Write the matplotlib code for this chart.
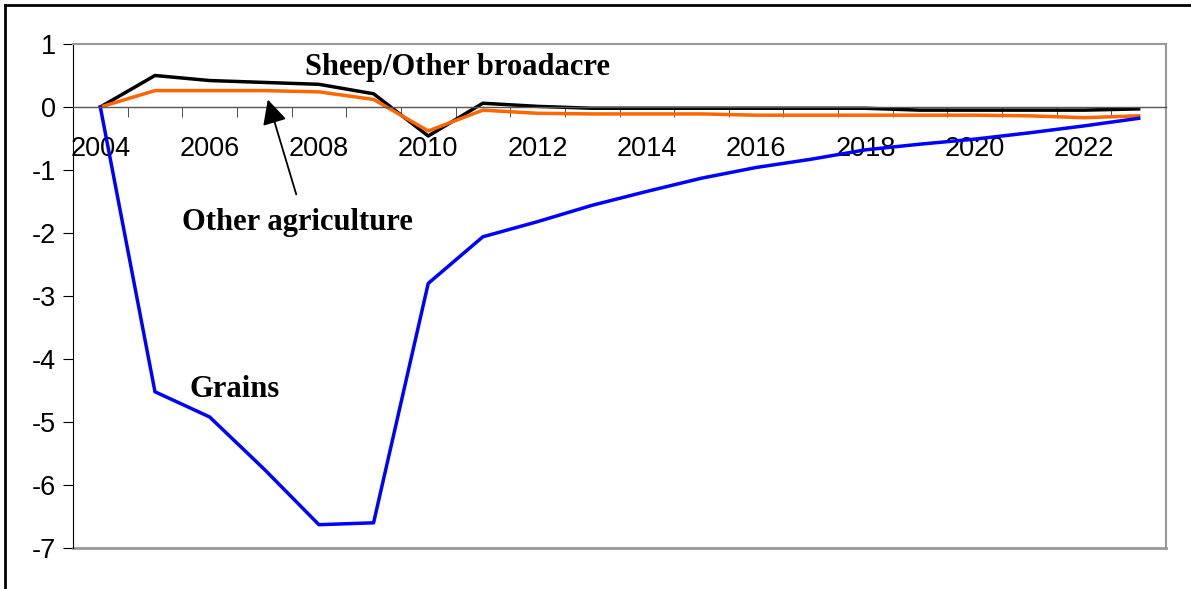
import numpy as np
import matplotlib.pyplot as plt
from matplotlib.lines import Line2D

years = list(range(2004, 2024))
grains = [0, -4.52, -4.92, -5.75, -6.63, -6.6, -2.8, -2.06, -1.82, -1.56,
          -1.34, -1.13, -0.96, -0.83, -0.68, -0.59, -0.51, -0.41, -0.3, -0.18]
sheep = [0, 0.5, 0.42, 0.39, 0.36, 0.21, -0.46, 0.06, 0.01, -0.02,
         -0.02, -0.02, -0.02, -0.02, -0.02, -0.05, -0.05, -0.05, -0.05, -0.03]
other = [0, 0.26, 0.26, 0.26, 0.24, 0.12, -0.38, -0.05, -0.1, -0.11,
         -0.11, -0.11, -0.13, -0.13, -0.13, -0.13, -0.13, -0.14, -0.17, -0.14]
label_years = years[::2]
y_ticks = list(range(-7, 2))

fig = plt.figure(figsize=(11.91, 5.89), dpi=100)
ax = fig.add_axes([73/1191, 1-548/589, 1093/1191, 504/589])

ax.plot(years, sheep, color='black', lw=2.5)
ax.plot(years, other, color='#FF6600', lw=2.5)
ax.plot(years, grains, color='#0000FF', lw=2.5)

ax.set_xlim(2003.5, 2023.5)
ax.set_ylim(-7, 1)

# x axis sits on zero line, ticks between categories
ax.spines['bottom'].set_position(('data', 0))
ax.spines['bottom'].set_color('#555555')
ax.spines['bottom'].set_linewidth(1)
ax.spines['top'].set_color('#999999')
ax.spines['right'].set_color('#999999')
ax.spines['top'].set_linewidth(1.5)
ax.spines['right'].set_linewidth(1.5)
ax.spines['left'].set_color('black')
ax.axhline(-7, color='#999999', lw=2, clip_on=False)

ax.set_xticks(label_years)
ax.set_xticklabels([str(y) for y in label_years])
ax.set_xticks(np.arange(2004.5, 2024, 1), minor=True)
ax.tick_params(axis='x', which='major', length=0, pad=21, labelsize=19.5)
ax.tick_params(axis='x', which='minor', length=7, direction='out', color='#333333')

ax.set_yticks(y_ticks)
ax.set_yticklabels([str(v) for v in y_ticks])
ax.tick_params(axis='y', length=7, labelsize=19.5, pad=5)
for t in ax.get_xticklabels() + ax.get_yticklabels():
    t.set_fontfamily('Liberation Sans')

serif = dict(fontfamily='Liberation Serif', fontweight='bold', color='black')
ax.text(2010.53, 0.62, 'Sheep/Other broadacre', fontsize=22, ha='center', va='center', **serif)
ax.text(2007.6, -1.83, 'Other agriculture', fontsize=22, ha='center', va='center', **serif)
ax.text(2006.46, -4.48, 'Grains', fontsize=22, ha='center', va='center', **serif)

ax.annotate('', xy=(2007.05, 0.16), xytext=(2007.6, -1.43),
            arrowprops=dict(arrowstyle='-|>,head_length=1.5,head_width=0.75',
                            color='black', lw=1.3))

# outer frame (cropped at right and bottom)
fig.add_artist(Line2D([5/1191, 5/1191], [0, 1-5/589], transform=fig.transFigure, color='black', lw=2))
fig.add_artist(Line2D([5/1191, 1], [1-5/589, 1-5/589], transform=fig.transFigure, color='black', lw=2))

fig.savefig('out.png', dpi=100)
